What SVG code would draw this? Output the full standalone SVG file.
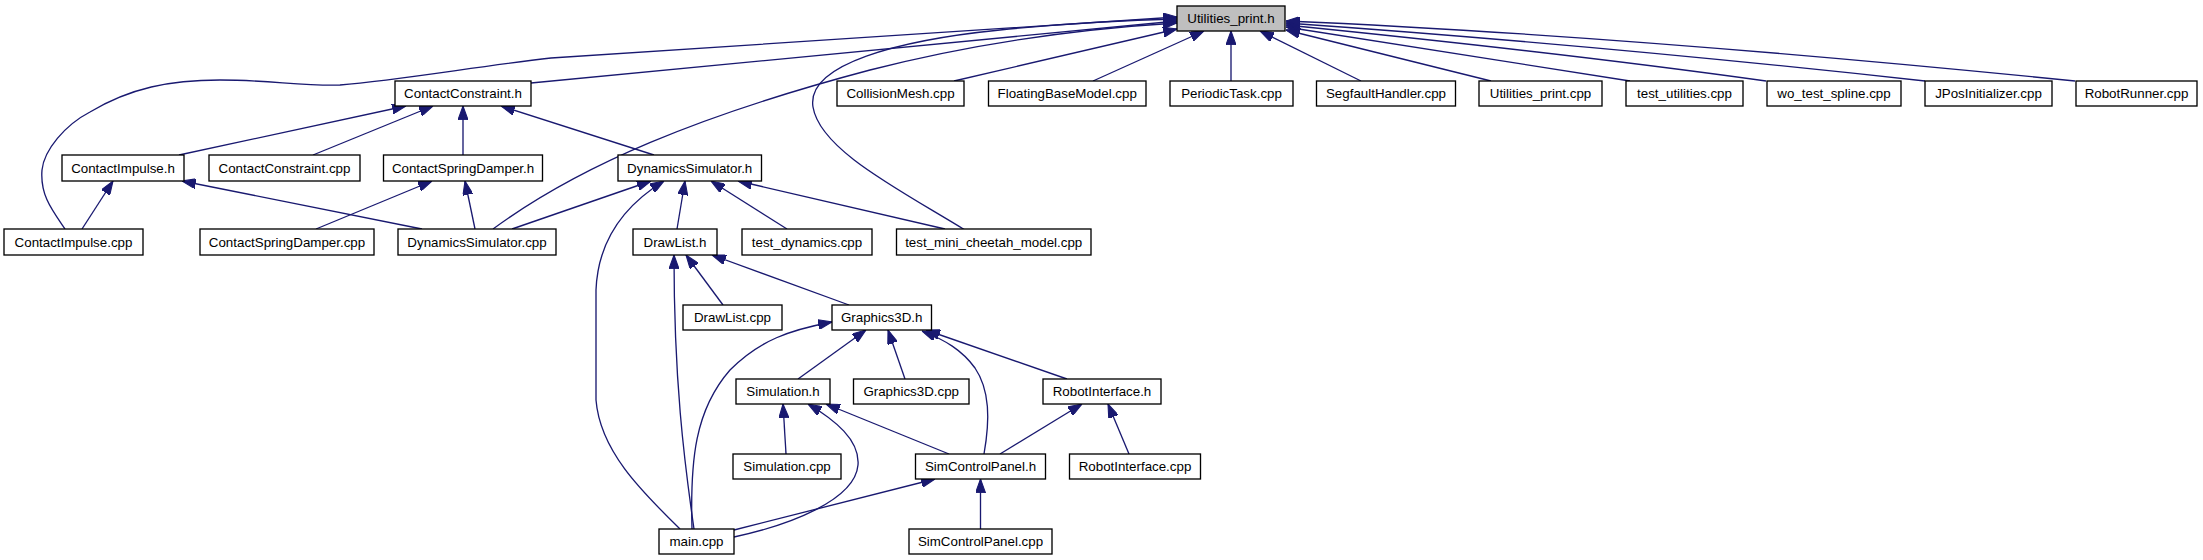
<svg xmlns="http://www.w3.org/2000/svg" width="2203" height="560" viewBox="0 0 2203 560">
<style>
.n rect{fill:#fff;stroke:#000;stroke-width:1.33}
#n0 rect{fill:#bfbfbf}
.n text{font-family:"Liberation Sans",Arial,Helvetica,sans-serif;font-size:13.33px;fill:#000;text-anchor:middle}
#edges path{fill:none;stroke:#191970;stroke-width:1.33;marker-end:url(#ah)}
</style>
<defs>
<marker id="ah" markerUnits="userSpaceOnUse" markerWidth="14" markerHeight="10" viewBox="0 0 13 9.4" refX="13" refY="4.7" orient="auto">
<path d="M0,0 L13,4.7 L0,9.4 z" fill="#191970" stroke="#191970" stroke-width="1"/>
</marker>
</defs>
<rect width="2203" height="560" fill="#fff"/>
<g id="edges">
<path d="M1231,81 L1231,31"/>
<path d="M1361,81 L1260,31"/>
<path d="M1491,81 L1286,30"/>
<path d="M1630,81 L1286,27"/>
<path d="M1766,81 Q1565,53 1286,25"/>
<path d="M1925,81 Q1593,44.5 1286,23"/>
<path d="M2075,81 Q1618,35 1286,21"/>
<path d="M954,81 L1177,29"/>
<path d="M1093,81 L1204,31"/>
<path d="M531,83 L1177,21"/>
<path d="M65,229 C52,210 40,195 42,170 C44,150 65,125 90,112 C130,88 170,80 220,80 C270,80 300,86 340,85 C400,80 480,66 551,58 L1177,17"/>
<path d="M493,229 C580,165 700,115 870,70 C960,47 1060,30 1177,23"/>
<path d="M965,230 C900,190 820,150 813,107 C806,64 900,40 1000,30 C1080,22 1130,20 1177,19"/>
<path d="M179,155 L406,106"/>
<path d="M313,155 L433,106"/>
<path d="M463,155 L463,106"/>
<path d="M654,155 L501,106"/>
<path d="M82,229 L113,181"/>
<path d="M422,229 L182,181"/>
<path d="M316,229 L432,181"/>
<path d="M475,229 L465,181"/>
<path d="M512,229 L651,181"/>
<path d="M680,529 C640,490 600,450 596,400 L596,290 C598,240 625,205 664,181"/>
<path d="M677,229 L685,181"/>
<path d="M787,229 L711,181"/>
<path d="M945,229 L738,181"/>
<path d="M694,529 C684,460 674,380 674,255"/>
<path d="M723,305 L686,255"/>
<path d="M849,305 L712,255"/>
<path d="M692,529 C690,460 695,410 730,370 C760,340 790,330 832,322"/>
<path d="M798,379 L866,330"/>
<path d="M905,379 L888,330"/>
<path d="M984,454 C990,420 990,390 975,368 C962,350 945,340 922,331"/>
<path d="M1067,379 L926,330"/>
<path d="M786,454 L783,404"/>
<path d="M734,537 C790,525 855,500 858,465 C860,440 835,420 808,404"/>
<path d="M949,454 L826,404"/>
<path d="M1000,454 L1082,404"/>
<path d="M1129,454 L1108,404"/>
<path d="M734,530 L935,479"/>
<path d="M980.5,529 L980.5,479"/>
</g>
<g id="n0" class="n"><rect x="1177" y="6" width="108" height="25"/><text x="1231" y="23">Utilities_print.h</text></g>
<g id="n1" class="n"><rect x="395" y="81" width="136" height="25"/><text x="463" y="98">ContactConstraint.h</text></g>
<g id="n2" class="n"><rect x="837" y="81" width="127" height="25"/><text x="900.5" y="98">CollisionMesh.cpp</text></g>
<g id="n3" class="n"><rect x="988.5" y="81" width="157.5" height="25"/><text x="1067.2" y="98">FloatingBaseModel.cpp</text></g>
<g id="n4" class="n"><rect x="1170" y="81" width="123" height="25"/><text x="1231.5" y="98">PeriodicTask.cpp</text></g>
<g id="n5" class="n"><rect x="1316.5" y="81" width="139" height="25"/><text x="1386" y="98">SegfaultHandler.cpp</text></g>
<g id="n6" class="n"><rect x="1479" y="81" width="123" height="25"/><text x="1540.5" y="98">Utilities_print.cpp</text></g>
<g id="n7" class="n"><rect x="1626" y="81" width="117" height="25"/><text x="1684.5" y="98">test_utilities.cpp</text></g>
<g id="n8" class="n"><rect x="1767" y="81" width="134" height="25"/><text x="1834" y="98">wo_test_spline.cpp</text></g>
<g id="n9" class="n"><rect x="1925" y="81" width="127" height="25"/><text x="1988.5" y="98">JPosInitializer.cpp</text></g>
<g id="n10" class="n"><rect x="2076" y="81" width="121" height="25"/><text x="2136.5" y="98">RobotRunner.cpp</text></g>
<g id="n11" class="n"><rect x="62" y="155" width="122" height="26"/><text x="123" y="172.5">ContactImpulse.h</text></g>
<g id="n12" class="n"><rect x="209" y="155" width="151" height="26"/><text x="284.5" y="172.5">ContactConstraint.cpp</text></g>
<g id="n13" class="n"><rect x="383.5" y="155" width="159" height="26"/><text x="463" y="172.5">ContactSpringDamper.h</text></g>
<g id="n14" class="n"><rect x="618" y="155" width="143.5" height="26"/><text x="689.7" y="172.5">DynamicsSimulator.h</text></g>
<g id="n15" class="n"><rect x="4" y="229" width="139" height="26"/><text x="73.5" y="246.5">ContactImpulse.cpp</text></g>
<g id="n16" class="n"><rect x="200" y="229" width="174" height="26"/><text x="287" y="246.5">ContactSpringDamper.cpp</text></g>
<g id="n17" class="n"><rect x="398" y="229" width="158" height="26"/><text x="477" y="246.5">DynamicsSimulator.cpp</text></g>
<g id="n18" class="n"><rect x="633" y="229" width="84" height="26"/><text x="675" y="246.5">DrawList.h</text></g>
<g id="n19" class="n"><rect x="742" y="229" width="130" height="26"/><text x="807" y="246.5">test_dynamics.cpp</text></g>
<g id="n20" class="n"><rect x="896.5" y="229" width="194.5" height="26"/><text x="993.7" y="246.5">test_mini_cheetah_model.cpp</text></g>
<g id="n21" class="n"><rect x="683" y="305" width="99" height="25"/><text x="732.5" y="322">DrawList.cpp</text></g>
<g id="n22" class="n"><rect x="832" y="305" width="99.5" height="25"/><text x="881.7" y="322">Graphics3D.h</text></g>
<g id="n23" class="n"><rect x="736" y="379" width="94" height="25"/><text x="783" y="396">Simulation.h</text></g>
<g id="n24" class="n"><rect x="853.5" y="379" width="115.5" height="25"/><text x="911.2" y="396">Graphics3D.cpp</text></g>
<g id="n25" class="n"><rect x="1043" y="379" width="118" height="25"/><text x="1102" y="396">RobotInterface.h</text></g>
<g id="n26" class="n"><rect x="733" y="454" width="108" height="25"/><text x="787" y="471">Simulation.cpp</text></g>
<g id="n27" class="n"><rect x="915.5" y="454" width="130" height="25"/><text x="980.5" y="471">SimControlPanel.h</text></g>
<g id="n28" class="n"><rect x="1069.5" y="454" width="131" height="25"/><text x="1135" y="471">RobotInterface.cpp</text></g>
<g id="n29" class="n"><rect x="659" y="529" width="75" height="25"/><text x="696.5" y="546">main.cpp</text></g>
<g id="n30" class="n"><rect x="909" y="529" width="143" height="25"/><text x="980.5" y="546">SimControlPanel.cpp</text></g>
</svg>
